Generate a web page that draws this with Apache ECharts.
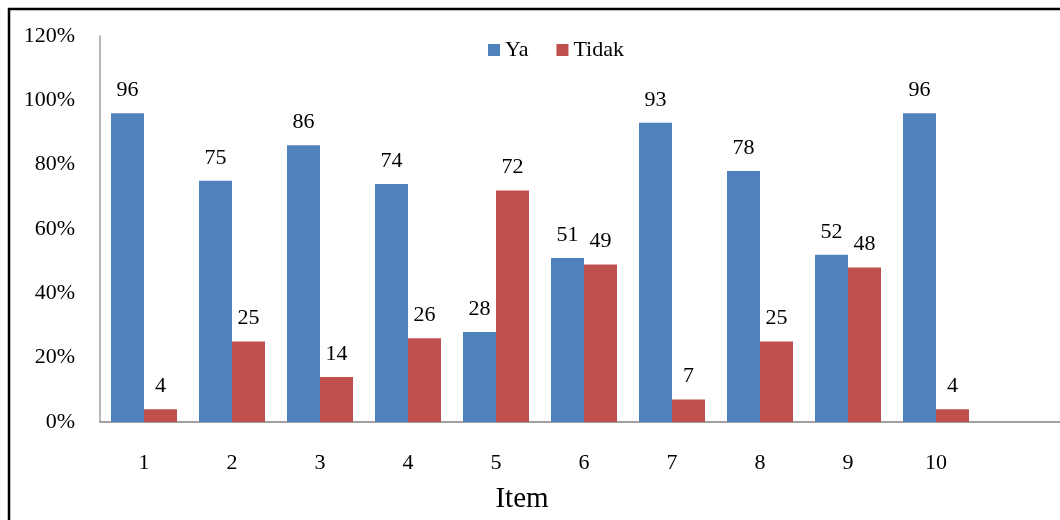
<!DOCTYPE html>
<html>
<head>
<meta charset="utf-8">
<script src="https://cdn.jsdelivr.net/npm/echarts@6/dist/echarts.min.js"></script>
<style>
  html, body { margin: 0; padding: 0; background: #fff; }
  #chart { width: 1060px; height: 520px; }
</style>
</head>
<body>
<div id="chart"></div>
<script>
// Survey items and the share of answers per item (percent)
const items = ['1', '2', '3', '4', '5', '6', '7', '8', '9', '10'];
const ya = [96, 75, 86, 74, 28, 51, 93, 78, 52, 96];
const tidak = [4, 25, 14, 26, 72, 49, 7, 25, 48, 4];
const yTicks = [0, 20, 40, 60, 80, 100, 120];

const FONT = '"Liberation Serif", "Times New Roman", serif';
const BLUE = '#4F81BD';
const RED = '#C0504D';

const chart = echarts.init(document.getElementById('chart'), null, { renderer: 'canvas' });

const labelStyle = {
  show: true,
  position: 'top',
  distance: 12,
  color: '#000',
  fontFamily: FONT,
  fontSize: 22
};

chart.setOption({
  animation: false,
  backgroundColor: '#fff',
  textStyle: { fontFamily: FONT },
  graphic: [{
    type: 'rect',
    shape: { x: 9, y: 9, width: 1200, height: 700 },
    style: { fill: 'none', stroke: '#000', lineWidth: 2.5 },
    silent: true,
    z: 100
  }],
  legend: {
    left: 483,
    top: 34,
    itemWidth: 12,
    itemHeight: 12,
    itemGap: 28,
    textStyle: { fontFamily: FONT, fontSize: 22, color: '#000', padding: [0, 0, 0, 0] },
    data: [
      { name: 'Ya', icon: 'rect' },
      { name: 'Tidak', icon: 'rect' }
    ]
  },
  grid: {
    left: 100,
    top: 36,
    width: 968,
    height: 386,
    containLabel: false,
    outerBoundsMode: 'none'
  },
  xAxis: {
    type: 'category',
    // one spare empty slot after the last item
    data: items.concat(['']),
    name: 'Item',
    nameLocation: 'middle',
    nameGap: 77,
    nameTextStyle: {
      fontFamily: FONT, fontSize: 29, color: '#000',
      verticalAlign: 'middle', padding: [0, 124, 0, 0]
    },
    axisLine: { lineStyle: { color: '#A0A0A0', width: 2 } },
    axisTick: { show: false },
    axisLabel: { fontFamily: FONT, fontSize: 22, color: '#000', margin: 30 },
    splitLine: { show: false }
  },
  yAxis: {
    type: 'value',
    min: yTicks[0],
    max: yTicks[yTicks.length - 1],
    interval: yTicks[1] - yTicks[0],
    axisLine: { show: true, lineStyle: { color: '#A0A0A0', width: 1.5 } },
    axisTick: { show: false },
    splitLine: { show: false },
    axisLabel: {
      fontFamily: FONT,
      fontSize: 22,
      color: '#000',
      margin: 25,
      formatter: '{value}%'
    }
  },
  series: [
    {
      name: 'Ya',
      type: 'bar',
      data: ya,
      barWidth: 33,
      barGap: '0%',
      itemStyle: { color: BLUE },
      label: labelStyle
    },
    {
      name: 'Tidak',
      type: 'bar',
      data: tidak,
      barWidth: 33,
      barGap: '0%',
      itemStyle: { color: RED },
      label: labelStyle
    }
  ]
});
</script>
</body>
</html>
